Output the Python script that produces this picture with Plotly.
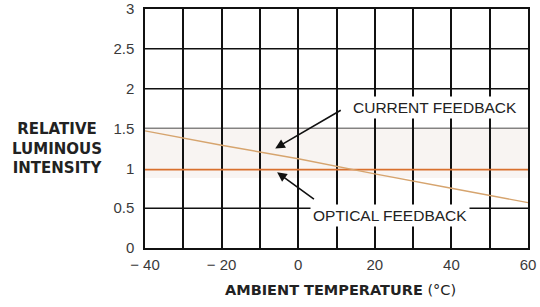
import plotly.graph_objects as go

temps = [-40, -20, 0, 20, 40, 60]
current_feedback = [1.47, 1.29, 1.12, 0.93, 0.75, 0.57]
optical_feedback = [0.985, 0.985, 0.985, 0.985, 0.985, 0.985]

x_tickvals = [-40, -30, -20, -10, 0, 10, 20, 30, 40, 50, 60]
x_ticktext = ["\u2212 40", "", "\u2212 20", "", "0", "", "20", "", "40", "", "60"]
y_tickvals = [0, 0.5, 1, 1.5, 2, 2.5, 3]
y_ticktext = ["0", "0.5", "1", "1.5", "2", "2.5", "3"]
y_gridlines = [0.5, 1.5, 2, 2.5]

FONT = "Liberation Sans, Arial, sans-serif"
TFONT = "DejaVu Sans, Liberation Sans, sans-serif"
W, H = 540, 307
L, T = 145, 9
R = W - 528
B = H - 248

fig = go.Figure()
fig.add_trace(go.Scatter(x=temps, y=optical_feedback, mode="lines",
                         line=dict(color="#d9702e", width=1.8), hoverinfo="skip"))
fig.add_trace(go.Scatter(x=temps, y=current_feedback, mode="lines",
                         line=dict(color="#d6a46e", width=1.4), hoverinfo="skip"))

# light shaded band behind the curves
fig.add_shape(type="rect", xref="x", yref="y", x0=-40, x1=60, y0=0.88, y1=1.5,
              fillcolor="#f8f4f2", line=dict(width=0), layer="below")
# horizontal grid lines (the 1.0 line is replaced by the optical curve)
for g in y_gridlines:
    fig.add_shape(type="line", xref="paper", yref="y", x0=0, x1=1, y0=g, y1=g,
                  line=dict(color="#111", width=1.5), layer="between")

tickfont = dict(family=FONT, size=15, color="#3a3a3a")
fig.update_xaxes(range=[-40, 60], showgrid=True, gridcolor="#111", gridwidth=1.5,
                 tickvals=x_tickvals, ticktext=x_ticktext, automargin=False,
                 ticklabelstandoff=2,
                 showline=True, linecolor="#111", linewidth=1.5, mirror=True,
                 zeroline=False, ticks="", tickfont=tickfont)
fig.update_yaxes(range=[0, 3], tickvals=y_tickvals, ticktext=y_ticktext, automargin=False,
                 showgrid=False, ticklabelstandoff=6,
                 showline=True, linecolor="#111", linewidth=1.5, mirror=True,
                 zeroline=False, ticks="", tickfont=tickfont)

pw = W - L - R
ph = H - T - B


def px(xp, yp):
    # page pixel -> paper fraction
    return (xp - L) / pw, 1 - (yp - T) / ph


arrow = dict(showarrow=True, arrowhead=2, arrowsize=1.2, arrowwidth=1.6, arrowcolor="#111",
             xref="x", yref="y", axref="x", ayref="y", text="")
fig.add_annotation(x=-6, y=1.25, ax=11.5, ay=1.74, **arrow)
fig.add_annotation(x=-5.5, y=0.95, ax=4.5, ay=0.6, **arrow)

for text, xp, yp in [("CURRENT FEEDBACK", 435, 107), ("OPTICAL FEEDBACK", 390, 215)]:
    fx, fy = px(xp, yp)
    fig.add_annotation(x=fx, y=fy, xref="paper", yref="paper", text=text, showarrow=False,
                       xanchor="center", yanchor="middle", bgcolor="white", borderpad=2,
                       font=dict(family=FONT, size=15.5, color="#222"))

fx, fy = px(57, 148)
fig.add_annotation(x=fx, y=fy, xref="paper", yref="paper",
                   text="<b>RELATIVE<br>LUMINOUS<br>INTENSITY</b>", showarrow=False,
                   xanchor="center", yanchor="middle", align="center",
                   font=dict(family=TFONT, size=15, color="#222"))
fx, fy = px(340, 290)
fig.add_annotation(x=fx, y=fy, xref="paper", yref="paper",
                   text="<b>AMBIENT TEMPERATURE</b> (\u00b0C)", showarrow=False,
                   xanchor="center", yanchor="middle",
                   font=dict(family=TFONT, size=14.5, color="#222"))

fig.update_layout(width=W, height=H, margin=dict(l=L, r=R, t=T, b=B, autoexpand=False),
                  paper_bgcolor="white", plot_bgcolor="white", showlegend=False)

fig.write_html("out.html", config={"displayModeBar": False},
               post_script="document.body.style.margin='0';document.body.style.overflow='hidden';")
